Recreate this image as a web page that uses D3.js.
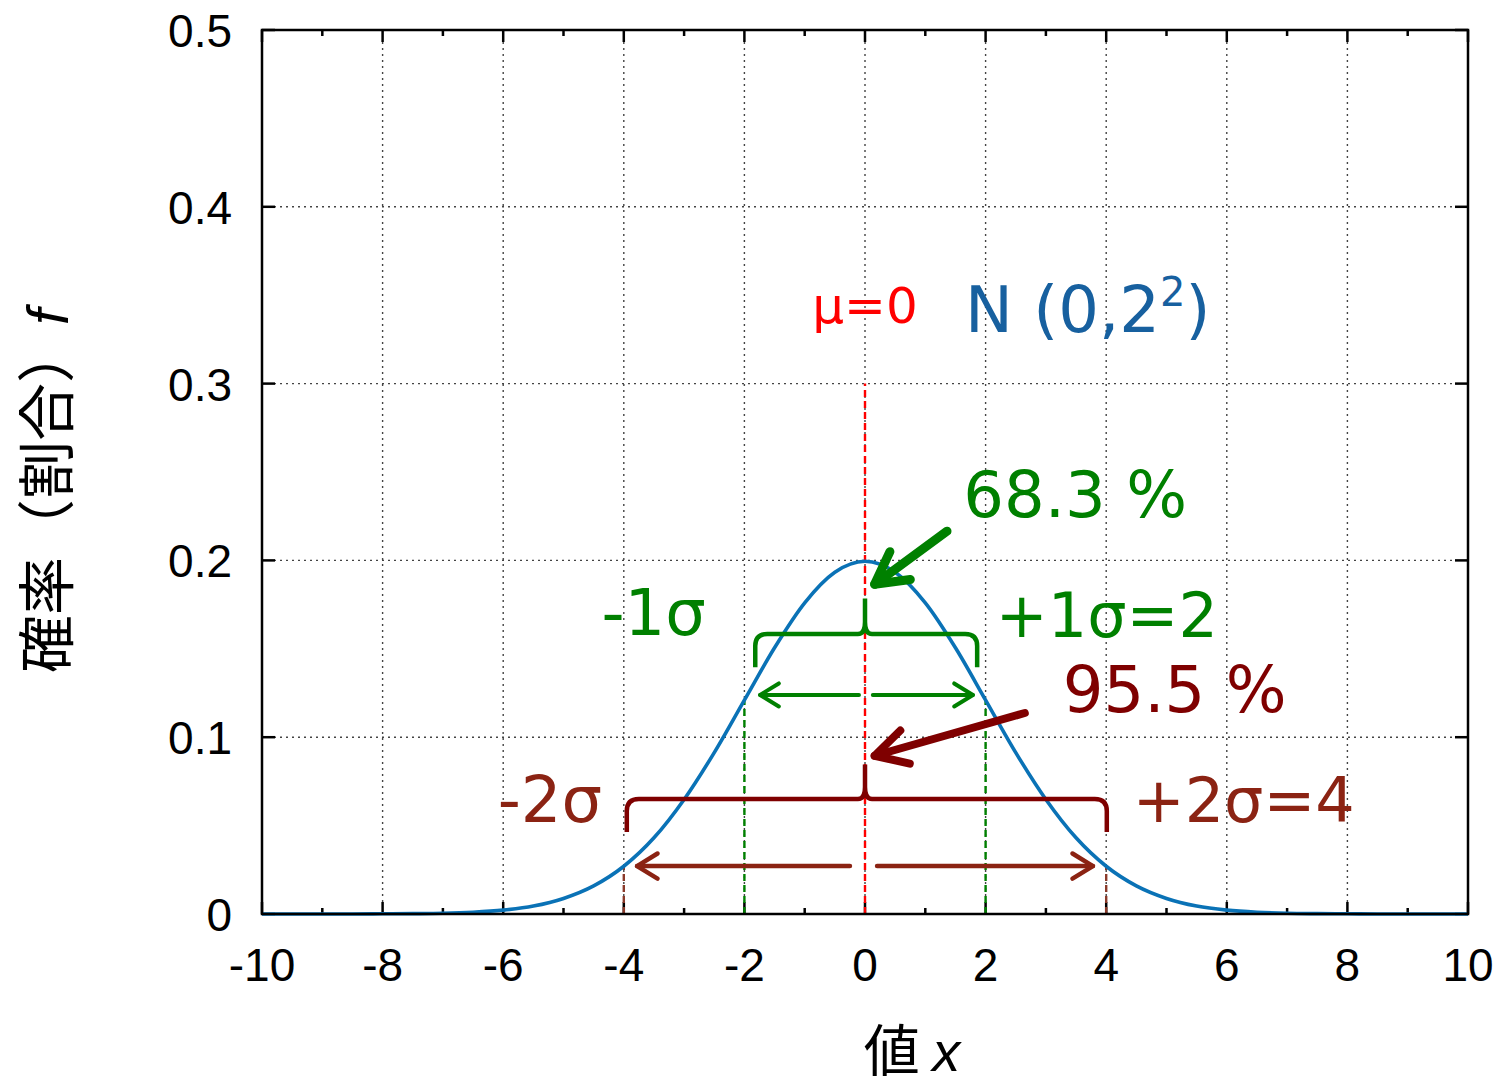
<!DOCTYPE html>
<html>
<head>
<meta charset="utf-8">
<script src="https://cdnjs.cloudflare.com/ajax/libs/d3/7.8.5/d3.min.js"></script>
<style>
  body { margin: 0; background: #fff; }
  svg { display: block; }
  text { font-family: "DejaVu Sans", sans-serif; }
  .tick-label { font-family: "Liberation Sans", Arial, sans-serif; font-size: 46px; fill: #000; }
</style>
</head>
<body>
<svg id="chart" width="1505" height="1086"></svg>
<script>
// values: N(0, 2^2) density
var xValues = [-10,-9.5,-9,-8.5,-8,-7.5,-7,-6.5,-6,-5.5,-5,-4.5,-4,-3.5,-3,-2.5,-2,-1.5,-1,-0.5,
               0,0.5,1,1.5,2,2.5,3,3.5,4,4.5,5,5.5,6,6.5,7,7.5,8,8.5,9,9.5,10];
var density = [0,0,0,0,0.0001,0.0002,0.0004,0.0010,0.0022,0.0045,0.0088,0.0159,0.0270,0.0431,0.0648,0.0913,0.1210,0.1506,0.1760,0.1933,
               0.1995,0.1933,0.1760,0.1506,0.1210,0.0913,0.0648,0.0431,0.0270,0.0159,0.0088,0.0045,0.0022,0.0010,0.0004,0.0002,0.0001,0,0,0,0];
var xTicks = [-10,-8,-6,-4,-2,0,2,4,6,8,10];
var xMinor = [-9,-7,-5,-3,-1,1,3,5,7,9];
var yTicks = [0,0.1,0.2,0.3,0.4,0.5];
var yTickLabels = ["0","0.1","0.2","0.3","0.4","0.5"];

var svg = d3.select("#chart");
var pLeft = 262, pRight = 1468, pTop = 30, pBottom = 914;

var x = d3.scaleLinear().domain([-10,10]).range([pLeft,pRight]);
var y = d3.scaleLinear().domain([0,0.5]).range([pBottom,pTop]);

function fAt(v){ return density[xValues.indexOf(v)]; }

// grid
var grid = svg.append("g").attr("stroke","#444").attr("stroke-width",1.4).attr("stroke-dasharray","2,4");
xTicks.slice(1,-1).forEach(function(t){
  grid.append("line").attr("x1",x(t)).attr("x2",x(t)).attr("y1",pTop+12).attr("y2",pBottom-12);
});
yTicks.slice(1,-1).forEach(function(t){
  grid.append("line").attr("x1",pLeft+12).attr("x2",pRight-12).attr("y1",y(t)).attr("y2",y(t));
});

// ticks (inward, mirrored)
var ticks = svg.append("g").attr("stroke","#000").attr("stroke-width",2.5);
xTicks.forEach(function(t){
  ticks.append("line").attr("x1",x(t)).attr("x2",x(t)).attr("y1",pBottom).attr("y2",pBottom-12);
  ticks.append("line").attr("x1",x(t)).attr("x2",x(t)).attr("y1",pTop).attr("y2",pTop+12);
});
xMinor.forEach(function(t){
  ticks.append("line").attr("x1",x(t)).attr("x2",x(t)).attr("y1",pBottom).attr("y2",pBottom-6);
  ticks.append("line").attr("x1",x(t)).attr("x2",x(t)).attr("y1",pTop).attr("y2",pTop+6);
});
yTicks.forEach(function(t){
  ticks.append("line").attr("x1",pLeft).attr("x2",pLeft+13).attr("y1",y(t)).attr("y2",y(t));
  ticks.append("line").attr("x1",pRight).attr("x2",pRight-13).attr("y1",y(t)).attr("y2",y(t));
});

// tick labels
svg.append("g").selectAll("text").data(xTicks).join("text")
  .attr("class","tick-label")
  .attr("x",function(d){ return x(d); })
  .attr("y",pBottom+67)
  .attr("text-anchor","middle")
  .text(function(d){ return d; });
svg.append("g").selectAll("text").data(yTicks).join("text")
  .attr("class","tick-label")
  .attr("x",pLeft-30)
  .attr("y",function(d){ return y(d)+17; })
  .attr("text-anchor","end")
  .text(function(d,i){ return yTickLabels[i]; });

// axis titles
var xt = svg.append("text").attr("x",912).attr("y",1071).attr("text-anchor","middle")
  .style("font-size","56px");
xt.append("tspan").style("font-family","'Noto Sans CJK JP'").text("値 ");
xt.append("tspan").style("font-style","italic").style("font-family","'Liberation Sans'").text("x");

var yt = svg.append("text").attr("transform","translate(68,491) rotate(-90)").attr("text-anchor","middle")
  .style("font-size","58px");
yt.append("tspan").style("font-family","'Noto Sans CJK JP'").text("確率（割合）");
yt.append("tspan").style("font-style","italic").style("font-family","'Liberation Sans'").text("f");

// dashed verticals
var dash = svg.append("g").attr("stroke-width",2.4).attr("stroke-dasharray","7,4");
dash.append("line").attr("stroke","#ff0000").attr("x1",x(0)).attr("x2",x(0)).attr("y1",y(0)).attr("y2",y(0.3));
[-2,2].forEach(function(v){
  dash.append("line").attr("stroke","#008000").attr("x1",x(v)).attr("x2",x(v)).attr("y1",y(0)).attr("y2",y(fAt(v)));
});
[-4,4].forEach(function(v){
  dash.append("line").attr("stroke","#8b3a2a").attr("x1",x(v)).attr("x2",x(v)).attr("y1",y(0)).attr("y2",y(fAt(v)));
});

// curve
var line = d3.line().x(function(d,i){ return x(xValues[i]); }).y(function(d){ return y(d); }).curve(d3.curveMonotoneX);
svg.append("path").datum(density).attr("d",line).attr("fill","none").attr("stroke","#0a72b6").attr("stroke-width",3.6);

// frame
svg.append("rect").attr("x",pLeft).attr("y",pTop).attr("width",pRight-pLeft).attr("height",pBottom-pTop)
  .attr("fill","none").attr("stroke","#000").attr("stroke-width",2.5);

// braces
function brace(xl, xr, yTop, yEnd, yPeak, color, w){
  var L = x(xl), R = x(xr), C = x(0), T = y(yTop), E = y(yEnd), P = y(yPeak), r = 12;
  var d = "M"+L+","+E+" L"+L+","+(T+r)+" Q"+L+","+T+" "+(L+r)+","+T+" L"+(C-7)+","+T+
          " Q"+C+","+T+" "+C+","+(T-12)+" L"+C+","+P+
          " M"+C+","+(T-12)+" Q"+C+","+T+" "+(C+7)+","+T+" L"+(R-r)+","+T+" Q"+R+","+T+" "+R+","+(T+r)+" L"+R+","+E;
  svg.append("path").attr("d",d).attr("fill","none").attr("stroke",color).attr("stroke-width",w);
}
brace(-1.82, 1.86, 0.1584, 0.1395, 0.1785, "#008000", 4.5);
brace(-3.95, 4.01, 0.0650, 0.0464, 0.0845, "#7f0000", 4.5);

// arrows
function arrow(x1, y1, x2, y2, color, w, len, ang){
  var X1 = x(x1), Y1 = y(y1), X2 = x(x2), Y2 = y(y2);
  var a = Math.atan2(Y1-Y2, X1-X2);
  var g = svg.append("g").attr("stroke",color).attr("stroke-width",w).attr("fill","none")
    .attr("stroke-linecap","round").attr("stroke-linejoin","round");
  g.append("line").attr("x1",X1).attr("y1",Y1).attr("x2",X2).attr("y2",Y2);
  g.append("path").attr("d","M"+(X2+len*Math.cos(a+ang))+","+(Y2+len*Math.sin(a+ang))+
    " L"+X2+","+Y2+" L"+(X2+len*Math.cos(a-ang))+","+(Y2+len*Math.sin(a-ang)));
}
arrow(-0.1, 0.1239, -1.74, 0.1239, "#008000", 4, 22, 0.55);
arrow(0.13, 0.1239, 1.79, 0.1239, "#008000", 4, 22, 0.55);
arrow(-0.25, 0.0271, -3.78, 0.0271, "#8b2313", 4.5, 24, 0.55);
arrow(0.2, 0.0271, 3.78, 0.0271, "#8b2313", 4.5, 24, 0.55);
arrow(1.36, 0.2165, 0.16, 0.1865, "#008000", 9, 36, 0.5);
arrow(2.65, 0.1137, 0.16, 0.0895, "#7f0000", 8, 36, 0.5);

// annotation texts
function label(xv, yv, anchor, color, size, txt){
  return svg.append("text").attr("x",x(xv)).attr("y",y(yv)).attr("text-anchor",anchor)
    .attr("fill",color).style("font-size",size+"px").text(txt);
}
label(0, 0.3345, "middle", "#ff0000", 50, "μ=0");
var nt = label(1.66, 0.3294, "start", "#17609f", 64, "N (0,2");
nt.append("tspan").attr("dy",-26).style("font-size","40px").text("2");
nt.append("tspan").attr("dy",26).text(")");
label(1.63, 0.2245, "start", "#008000", 64, "68.3 %");
label(2.17, 0.1567, "start", "#008000", 62, "+1σ=2");
label(-2.64, 0.158, "end", "#008000", 64, "-1σ");
label(3.28, 0.1143, "start", "#7f0000", 64, "95.5 %");
label(-4.36, 0.052, "end", "#8b2313", 64, "-2σ");
label(4.44, 0.052, "start", "#8b2313", 62, "+2σ=4");
</script>
</body>
</html>
